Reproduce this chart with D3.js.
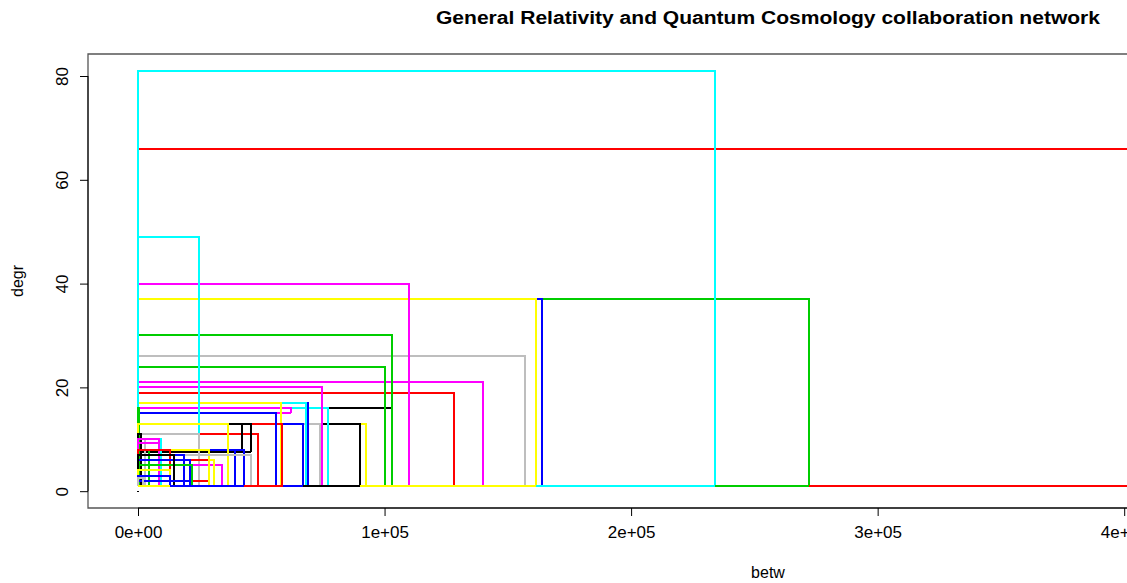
<!DOCTYPE html>
<html>
<head>
<meta charset="utf-8">
<script src="https://d3js.org/d3.v7.min.js"></script>
<style>
  body { margin: 0; background: #fff; }
  text { font-family: "Liberation Sans", Arial, sans-serif; }
</style>
</head>
<body>
<svg width="1127" height="583"></svg>
<script>
  // one entry per node: betweenness, degree, lower edge of its box, colour (drawing order)
  const betw = [507000, 272000, 234000, 164000, 161500, 157000, 140000, 128000, 110000, 103000,
                103000, 100000, 92500, 90000, 74000, 77000, 74600, 69000, 68000, 67000,
                62000, 58000, 58500, 56000, 48500, 46000, 42000, 46000, 43000, 39500,
                24700, 300, 36500, 24700, 34000, 31000, 29000, 3000, 1200, 9500,
                8700, 8700, 29000, 46000, 4500, 13000, 21000, 18500, 22000, 14500,
                13000, 13000, 21000, 2000];
  const degr = [66, 37, 81, 37, 37, 26, 21, 19, 40, 16,
                30, 24, 13, 13, 13, 16, 20, 17, 17, 13,
                16, 17, 13, 15, 11, 13, 13, 7, 8, 8,
                49, 16, 13, 11, 5, 6, 6, 10, 11, 10,
                10, 9.3, 8, 7, 8, 8, 6, 7, 5, 7,
                4, 3, 2, 2.5];
  const base = [1, 1, 1, 1, 1, 1, 1, 1, 1, 1,
                1, 1, 1, 1, 1, 1, 1, 1, 1, 1,
                15, 1, 1, 1, 1, 7.5, 7.5, 1, 1, 1,
                1, 1, 1, 1, 1, 1, 2, 1, 1, 1,
                9.3, 1, 1, 1, 1, 1, 1, 1, 1, 1,
                1, 1, 1, 1];
  const colr = ["red", "green", "cyan", "blue", "yellow", "gray", "magenta", "red", "magenta", "black",
                "green", "green", "yellow", "black", "gray", "cyan", "magenta", "blue", "cyan", "blue",
                "magenta", "yellow", "red", "blue", "red", "black", "black", "gray", "blue", "blue",
                "cyan", "green", "yellow", "gray", "magenta", "yellow", "red", "gray", "black", "cyan",
                "magenta", "magenta", "yellow", "gray", "green", "red", "blue", "blue", "green", "black",
                "yellow", "blue", "blue", "gray"];

  // what shows along degr = 1 (segment ends in betw, colour on top)
  const floorEnd = [13000, 43000, 59000, 67000, 90000, 161500, 234000, 272000, 507000];
  const floorCol = ["yellow", "blue", "red", "blue", "black", "yellow", "cyan", "green", "red"];

  const xTicks = [0, 1e5, 2e5, 3e5, 4e5, 5e5];
  const yTicks = [0, 20, 40, 60, 80];

  const pal = {red: "#FF0000", green: "#00CD00", blue: "#0000FF", cyan: "#00FFFF",
               magenta: "#FF00FF", yellow: "#FFFF00", gray: "#BEBEBE", black: "#000000"};

  const svg = d3.select('svg');
  const box = {left: 88, right: 1438, top: 54, bottom: 508};

  const xMax = d3.max(betw), yMax = d3.max(degr);
  const x = d3.scaleLinear().domain([-0.04 * xMax, 1.04 * xMax]).range([box.left, box.right]);
  const y = d3.scaleLinear().domain([-0.04 * yMax, 1.04 * yMax]).range([box.bottom, box.top]);

  svg.append('rect').attr('width', 1127).attr('height', 583).attr('fill', '#fff');

  svg.append('clipPath').attr('id', 'plotclip')
    .append('rect').attr('x', box.left).attr('y', box.top)
    .attr('width', box.right - box.left).attr('height', box.bottom - box.top);

  const g = svg.append('g').attr('clip-path', 'url(#plotclip)')
    .attr('shape-rendering', 'crispEdges');

  const nodes = betw.map((b, i) => ({b: b, d: degr[i], lo: base[i], c: colr[i]}));
  const line = d3.line().x(p => Math.round(x(p[0]))).y(p => Math.round(y(p[1])));

  g.selectAll('path.node').data(nodes).enter().append('path')
    .attr('class', 'node')
    .attr('d', n => {
      const pts = [[n.b, n.lo], [n.b, n.d], [0, n.d], [0, n.lo]];
      if (n.lo > 1) pts.push([n.b, n.lo]);
      return line(pts);
    })
    .attr('fill', 'none')
    .attr('stroke', n => pal[n.c])
    .attr('stroke-width', 2);

  // floor line
  const floor = floorEnd.map((e, i) => ({from: i ? floorEnd[i - 1] : 0, to: e, c: floorCol[i]}));
  g.selectAll('line.floor').data(floor).enter().append('line')
    .attr('x1', s => Math.round(x(s.from))).attr('x2', s => Math.round(x(s.to)))
    .attr('y1', Math.round(y(1))).attr('y2', Math.round(y(1)))
    .attr('stroke', s => pal[s.c]).attr('stroke-width', 2);

  g.append('circle').attr('cx', x(0)).attr('cy', y(0)).attr('r', 0.8).attr('fill', '#000');

  // box
  svg.append('path')
    .attr('d', `M${box.right},${box.top}H${box.left}V${box.bottom}H${box.right}`)
    .attr('fill', 'none').attr('stroke', '#555').attr('stroke-width', 1.3);

  // axes
  const xAxis = svg.append('g').attr('transform', `translate(0,${box.bottom})`)
    .call(d3.axisBottom(x).tickValues(xTicks).tickSize(8).tickPadding(10)
      .tickFormat(v => { const k = Math.round(v / 1e5); return k + 'e+0' + (k ? 5 : 0); }));
  const yAxis = svg.append('g').attr('transform', `translate(${box.left},0)`)
    .call(d3.axisLeft(y).tickValues(yTicks).tickSize(8));

  [xAxis, yAxis].forEach(a => {
    a.select('.domain').attr('stroke', '#000');
    a.selectAll('.tick line').attr('stroke', '#000');
    a.selectAll('text').attr('font-family', '"Liberation Sans", Arial, sans-serif')
      .attr('font-size', 17).attr('fill', '#000');
  });
  xAxis.select('.domain').attr('d', `M${x(0)},0H${x(5e5)}`);
  yAxis.select('.domain').attr('d', `M0,${y(0)}V${y(80)}`);
  yAxis.selectAll('.tick text')
    .attr('transform', 'rotate(-90)').attr('x', 0).attr('y', -20)
    .attr('dy', 0).attr('text-anchor', 'middle');

  const mid = (box.left + box.right) / 2 + 5;
  svg.append('text').attr('x', mid).attr('y', 24).attr('text-anchor', 'middle')
    .attr('font-size', 18).attr('font-weight', 'bold')
    .attr('textLength', 664).attr('lengthAdjust', 'spacingAndGlyphs')
    .text('General Relativity and Quantum Cosmology collaboration network');
  svg.append('text').attr('x', mid).attr('y', 578).attr('text-anchor', 'middle')
    .attr('font-size', 16).text('betw');
  svg.append('text').attr('transform', `translate(23,${(box.top + box.bottom) / 2}) rotate(-90)`)
    .attr('text-anchor', 'middle').attr('font-size', 16).text('degr');
</script>
</body>
</html>
